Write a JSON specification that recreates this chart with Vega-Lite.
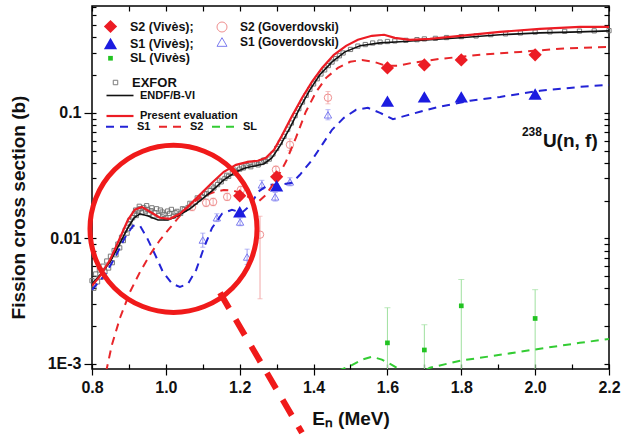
{
  "$schema": "https://vega.github.io/schema/vega-lite/v6.json",
  "width": 517,
  "height": 363,
  "autosize": {"type": "none"},
  "padding": {"left": 92, "top": 6, "right": 14, "bottom": 72},
  "background": "white",
  "datasets": {
    "exfor": [
      {"E": 0.800, "xs": 0.0046}, {"E": 0.805, "xs": 0.0040}, {"E": 0.810, "xs": 0.0052}, {"E": 0.815, "xs": 0.0045},
      {"E": 0.820, "xs": 0.0056}, {"E": 0.825, "xs": 0.0049}, {"E": 0.830, "xs": 0.0060}, {"E": 0.835, "xs": 0.0054},
      {"E": 0.840, "xs": 0.0066}, {"E": 0.845, "xs": 0.0058}, {"E": 0.850, "xs": 0.0072}, {"E": 0.855, "xs": 0.0064},
      {"E": 0.860, "xs": 0.0080}, {"E": 0.865, "xs": 0.0074}, {"E": 0.870, "xs": 0.0090}, {"E": 0.875, "xs": 0.0084},
      {"E": 0.880, "xs": 0.0102}, {"E": 0.885, "xs": 0.0096}, {"E": 0.890, "xs": 0.0116}, {"E": 0.895, "xs": 0.0110},
      {"E": 0.900, "xs": 0.0131}, {"E": 0.903, "xs": 0.0140}, {"E": 0.905, "xs": 0.0125}, {"E": 0.910, "xs": 0.0146},
      {"E": 0.915, "xs": 0.0158}, {"E": 0.918, "xs": 0.0168}, {"E": 0.920, "xs": 0.0152}, {"E": 0.925, "xs": 0.0166},
      {"E": 0.928, "xs": 0.0180}, {"E": 0.930, "xs": 0.0172}, {"E": 0.935, "xs": 0.0160}, {"E": 0.940, "xs": 0.0176},
      {"E": 0.945, "xs": 0.0165}, {"E": 0.948, "xs": 0.0182}, {"E": 0.950, "xs": 0.0170}, {"E": 0.955, "xs": 0.0158},
      {"E": 0.960, "xs": 0.0166}, {"E": 0.962, "xs": 0.0175}, {"E": 0.965, "xs": 0.0150}, {"E": 0.970, "xs": 0.0160},
      {"E": 0.975, "xs": 0.0172}, {"E": 0.980, "xs": 0.0152}, {"E": 0.985, "xs": 0.0168}, {"E": 0.990, "xs": 0.0162},
      {"E": 0.995, "xs": 0.0155}, {"E": 1.000, "xs": 0.0146}, {"E": 1.005, "xs": 0.0165}, {"E": 1.010, "xs": 0.0158},
      {"E": 1.015, "xs": 0.0170}, {"E": 1.020, "xs": 0.0150}, {"E": 1.025, "xs": 0.0160}, {"E": 1.030, "xs": 0.0164},
      {"E": 1.040, "xs": 0.0158}, {"E": 1.045, "xs": 0.0172}, {"E": 1.050, "xs": 0.0170}, {"E": 1.060, "xs": 0.0176},
      {"E": 1.065, "xs": 0.0190}, {"E": 1.070, "xs": 0.0186}, {"E": 1.080, "xs": 0.0194}, {"E": 1.085, "xs": 0.0210},
      {"E": 1.090, "xs": 0.0206}, {"E": 1.100, "xs": 0.0214}, {"E": 1.105, "xs": 0.0228}, {"E": 1.110, "xs": 0.0226},
      {"E": 1.120, "xs": 0.0240}, {"E": 1.125, "xs": 0.0260}, {"E": 1.130, "xs": 0.0252}, {"E": 1.140, "xs": 0.0268},
      {"E": 1.145, "xs": 0.0290}, {"E": 1.150, "xs": 0.0282}, {"E": 1.160, "xs": 0.0300}, {"E": 1.165, "xs": 0.0318},
      {"E": 1.170, "xs": 0.0312}, {"E": 1.180, "xs": 0.0330}, {"E": 1.185, "xs": 0.0350}, {"E": 1.190, "xs": 0.0342},
      {"E": 1.200, "xs": 0.0356}, {"E": 1.205, "xs": 0.0376}, {"E": 1.210, "xs": 0.0364}, {"E": 1.220, "xs": 0.0380},
      {"E": 1.225, "xs": 0.0395}, {"E": 1.230, "xs": 0.0372}, {"E": 1.240, "xs": 0.0392}, {"E": 1.245, "xs": 0.0400},
      {"E": 1.250, "xs": 0.0385}, {"E": 1.260, "xs": 0.0402}, {"E": 1.265, "xs": 0.0420}, {"E": 1.270, "xs": 0.0410},
      {"E": 1.280, "xs": 0.0428}, {"E": 1.290, "xs": 0.0470}, {"E": 1.300, "xs": 0.0520}, {"E": 1.310, "xs": 0.0580},
      {"E": 1.320, "xs": 0.0650}, {"E": 1.330, "xs": 0.0740}, {"E": 1.340, "xs": 0.0830}, {"E": 1.350, "xs": 0.0950},
      {"E": 1.360, "xs": 0.1080}, {"E": 1.370, "xs": 0.1220}, {"E": 1.380, "xs": 0.1380}, {"E": 1.390, "xs": 0.1540},
      {"E": 1.400, "xs": 0.1700}, {"E": 1.410, "xs": 0.1870}, {"E": 1.420, "xs": 0.2040}, {"E": 1.430, "xs": 0.2200},
      {"E": 1.440, "xs": 0.2380}, {"E": 1.450, "xs": 0.2540}, {"E": 1.460, "xs": 0.2700}, {"E": 1.470, "xs": 0.2850},
      {"E": 1.480, "xs": 0.3000}, {"E": 1.500, "xs": 0.3200}, {"E": 1.520, "xs": 0.3400}, {"E": 1.540, "xs": 0.3500},
      {"E": 1.560, "xs": 0.3600}, {"E": 1.580, "xs": 0.3660}, {"E": 1.600, "xs": 0.3700}, {"E": 1.620, "xs": 0.3740},
      {"E": 1.650, "xs": 0.3780}, {"E": 1.680, "xs": 0.3830}, {"E": 1.700, "xs": 0.3880}, {"E": 1.730, "xs": 0.3920},
      {"E": 1.760, "xs": 0.3980}, {"E": 1.800, "xs": 0.4050}, {"E": 1.840, "xs": 0.4100}, {"E": 1.880, "xs": 0.4200},
      {"E": 1.920, "xs": 0.4260}, {"E": 1.960, "xs": 0.4330}, {"E": 2.000, "xs": 0.4400}, {"E": 2.040, "xs": 0.4420},
      {"E": 2.080, "xs": 0.4460}, {"E": 2.120, "xs": 0.4480}, {"E": 2.160, "xs": 0.4500}, {"E": 2.200, "xs": 0.4520}
    ],
    "evals": [
      {"curve": "ENDF/B-VI", "E": 0.800, "xs": 0.00434}, {"curve": "ENDF/B-VI", "E": 0.822, "xs": 0.00512},
      {"curve": "ENDF/B-VI", "E": 0.849, "xs": 0.0065}, {"curve": "ENDF/B-VI", "E": 0.876, "xs": 0.0092},
      {"curve": "ENDF/B-VI", "E": 0.897, "xs": 0.0121}, {"curve": "ENDF/B-VI", "E": 0.914, "xs": 0.0146},
      {"curve": "ENDF/B-VI", "E": 0.930, "xs": 0.0157}, {"curve": "ENDF/B-VI", "E": 0.952, "xs": 0.0151},
      {"curve": "ENDF/B-VI", "E": 0.979, "xs": 0.0140}, {"curve": "ENDF/B-VI", "E": 1.006, "xs": 0.0140},
      {"curve": "ENDF/B-VI", "E": 1.033, "xs": 0.0151}, {"curve": "ENDF/B-VI", "E": 1.065, "xs": 0.0172},
      {"curve": "ENDF/B-VI", "E": 1.092, "xs": 0.0199}, {"curve": "ENDF/B-VI", "E": 1.125, "xs": 0.0239},
      {"curve": "ENDF/B-VI", "E": 1.157, "xs": 0.0292}, {"curve": "ENDF/B-VI", "E": 1.190, "xs": 0.0339},
      {"curve": "ENDF/B-VI", "E": 1.217, "xs": 0.0365}, {"curve": "ENDF/B-VI", "E": 1.244, "xs": 0.0379},
      {"curve": "ENDF/B-VI", "E": 1.266, "xs": 0.0393}, {"curve": "ENDF/B-VI", "E": 1.287, "xs": 0.0438},
      {"curve": "ENDF/B-VI", "E": 1.309, "xs": 0.0546}, {"curve": "ENDF/B-VI", "E": 1.336, "xs": 0.0759},
      {"curve": "ENDF/B-VI", "E": 1.363, "xs": 0.1096}, {"curve": "ENDF/B-VI", "E": 1.390, "xs": 0.1525},
      {"curve": "ENDF/B-VI", "E": 1.417, "xs": 0.2009}, {"curve": "ENDF/B-VI", "E": 1.450, "xs": 0.2548},
      {"curve": "ENDF/B-VI", "E": 1.485, "xs": 0.306}, {"curve": "ENDF/B-VI", "E": 1.526, "xs": 0.342},
      {"curve": "ENDF/B-VI", "E": 1.580, "xs": 0.361}, {"curve": "ENDF/B-VI", "E": 1.634, "xs": 0.368},
      {"curve": "ENDF/B-VI", "E": 1.715, "xs": 0.382}, {"curve": "ENDF/B-VI", "E": 1.797, "xs": 0.396},
      {"curve": "ENDF/B-VI", "E": 1.905, "xs": 0.419}, {"curve": "ENDF/B-VI", "E": 2.013, "xs": 0.434},
      {"curve": "ENDF/B-VI", "E": 2.121, "xs": 0.442}, {"curve": "ENDF/B-VI", "E": 2.200, "xs": 0.450},
      {"curve": "Present evaluation", "E": 0.800, "xs": 0.00419}, {"curve": "Present evaluation", "E": 0.822, "xs": 0.00502},
      {"curve": "Present evaluation", "E": 0.849, "xs": 0.00675}, {"curve": "Present evaluation", "E": 0.876, "xs": 0.0101},
      {"curve": "Present evaluation", "E": 0.897, "xs": 0.0140}, {"curve": "Present evaluation", "E": 0.916, "xs": 0.0169},
      {"curve": "Present evaluation", "E": 0.935, "xs": 0.0178}, {"curve": "Present evaluation", "E": 0.957, "xs": 0.0163},
      {"curve": "Present evaluation", "E": 0.984, "xs": 0.0146}, {"curve": "Present evaluation", "E": 1.011, "xs": 0.0143},
      {"curve": "Present evaluation", "E": 1.038, "xs": 0.0157}, {"curve": "Present evaluation", "E": 1.065, "xs": 0.0185},
      {"curve": "Present evaluation", "E": 1.092, "xs": 0.0222}, {"curve": "Present evaluation", "E": 1.125, "xs": 0.0277},
      {"curve": "Present evaluation", "E": 1.157, "xs": 0.0339}, {"curve": "Present evaluation", "E": 1.190, "xs": 0.0385},
      {"curve": "Present evaluation", "E": 1.222, "xs": 0.0407}, {"curve": "Present evaluation", "E": 1.249, "xs": 0.0415},
      {"curve": "Present evaluation", "E": 1.271, "xs": 0.0438}, {"curve": "Present evaluation", "E": 1.293, "xs": 0.0507},
      {"curve": "Present evaluation", "E": 1.314, "xs": 0.0656}, {"curve": "Present evaluation", "E": 1.342, "xs": 0.0946},
      {"curve": "Present evaluation", "E": 1.369, "xs": 0.132}, {"curve": "Present evaluation", "E": 1.396, "xs": 0.177},
      {"curve": "Present evaluation", "E": 1.423, "xs": 0.228}, {"curve": "Present evaluation", "E": 1.455, "xs": 0.290},
      {"curve": "Present evaluation", "E": 1.488, "xs": 0.342}, {"curve": "Present evaluation", "E": 1.520, "xs": 0.382},
      {"curve": "Present evaluation", "E": 1.558, "xs": 0.411}, {"curve": "Present evaluation", "E": 1.591, "xs": 0.419},
      {"curve": "Present evaluation", "E": 1.620, "xs": 0.396}, {"curve": "Present evaluation", "E": 1.661, "xs": 0.382},
      {"curve": "Present evaluation", "E": 1.715, "xs": 0.389}, {"curve": "Present evaluation", "E": 1.797, "xs": 0.411},
      {"curve": "Present evaluation", "E": 1.905, "xs": 0.442}, {"curve": "Present evaluation", "E": 2.013, "xs": 0.467},
      {"curve": "Present evaluation", "E": 2.121, "xs": 0.484}, {"curve": "Present evaluation", "E": 2.200, "xs": 0.484}
    ],
    "components": [
      {"comp": "S1", "E": 0.800, "xs": 0.00389}, {"comp": "S1", "E": 0.835, "xs": 0.00512}, {"comp": "S1", "E": 0.862, "xs": 0.0070},
      {"comp": "S1", "E": 0.889, "xs": 0.0101}, {"comp": "S1", "E": 0.911, "xs": 0.0126}, {"comp": "S1", "E": 0.930, "xs": 0.0126},
      {"comp": "S1", "E": 0.949, "xs": 0.0101}, {"comp": "S1", "E": 0.971, "xs": 0.0074}, {"comp": "S1", "E": 0.992, "xs": 0.0054},
      {"comp": "S1", "E": 1.017, "xs": 0.00434}, {"comp": "S1", "E": 1.038, "xs": 0.00411}, {"comp": "S1", "E": 1.060, "xs": 0.00434},
      {"comp": "S1", "E": 1.082, "xs": 0.0056}, {"comp": "S1", "E": 1.103, "xs": 0.0084}, {"comp": "S1", "E": 1.125, "xs": 0.0121},
      {"comp": "S1", "E": 1.152, "xs": 0.0157}, {"comp": "S1", "E": 1.179, "xs": 0.0169}, {"comp": "S1", "E": 1.206, "xs": 0.0160},
      {"comp": "S1", "E": 1.228, "xs": 0.0182}, {"comp": "S1", "E": 1.250, "xs": 0.0235}, {"comp": "S1", "E": 1.277, "xs": 0.0267},
      {"comp": "S1", "E": 1.309, "xs": 0.0267}, {"comp": "S1", "E": 1.342, "xs": 0.0277}, {"comp": "S1", "E": 1.363, "xs": 0.0321},
      {"comp": "S1", "E": 1.396, "xs": 0.0422}, {"comp": "S1", "E": 1.423, "xs": 0.0556}, {"comp": "S1", "E": 1.450, "xs": 0.0733},
      {"comp": "S1", "E": 1.482, "xs": 0.0912}, {"comp": "S1", "E": 1.515, "xs": 0.1057}, {"comp": "S1", "E": 1.547, "xs": 0.1096},
      {"comp": "S1", "E": 1.580, "xs": 0.1000}, {"comp": "S1", "E": 1.615, "xs": 0.0890}, {"comp": "S1", "E": 1.650, "xs": 0.0950},
      {"comp": "S1", "E": 1.688, "xs": 0.102}, {"comp": "S1", "E": 1.742, "xs": 0.112}, {"comp": "S1", "E": 1.824, "xs": 0.125},
      {"comp": "S1", "E": 1.905, "xs": 0.134}, {"comp": "S1", "E": 2.013, "xs": 0.150}, {"comp": "S1", "E": 2.121, "xs": 0.161},
      {"comp": "S1", "E": 2.200, "xs": 0.167},
      {"comp": "S2", "E": 0.838, "xs": 0.00086}, {"comp": "S2", "E": 0.854, "xs": 0.00142}, {"comp": "S2", "E": 0.876, "xs": 0.00233},
      {"comp": "S2", "E": 0.903, "xs": 0.00375}, {"comp": "S2", "E": 0.930, "xs": 0.0054}, {"comp": "S2", "E": 0.957, "xs": 0.0074},
      {"comp": "S2", "E": 0.984, "xs": 0.0097}, {"comp": "S2", "E": 1.011, "xs": 0.0121}, {"comp": "S2", "E": 1.038, "xs": 0.0151},
      {"comp": "S2", "E": 1.065, "xs": 0.0185}, {"comp": "S2", "E": 1.092, "xs": 0.0210}, {"comp": "S2", "E": 1.125, "xs": 0.0231},
      {"comp": "S2", "E": 1.157, "xs": 0.0243}, {"comp": "S2", "E": 1.185, "xs": 0.0239}, {"comp": "S2", "E": 1.217, "xs": 0.0218},
      {"comp": "S2", "E": 1.250, "xs": 0.0195}, {"comp": "S2", "E": 1.271, "xs": 0.0222}, {"comp": "S2", "E": 1.298, "xs": 0.0292},
      {"comp": "S2", "E": 1.325, "xs": 0.0407}, {"comp": "S2", "E": 1.352, "xs": 0.0632}, {"comp": "S2", "E": 1.379, "xs": 0.102},
      {"comp": "S2", "E": 1.407, "xs": 0.147}, {"comp": "S2", "E": 1.434, "xs": 0.190}, {"comp": "S2", "E": 1.466, "xs": 0.228},
      {"comp": "S2", "E": 1.499, "xs": 0.255}, {"comp": "S2", "E": 1.531, "xs": 0.264}, {"comp": "S2", "E": 1.564, "xs": 0.255},
      {"comp": "S2", "E": 1.596, "xs": 0.237}, {"comp": "S2", "E": 1.629, "xs": 0.237}, {"comp": "S2", "E": 1.666, "xs": 0.250},
      {"comp": "S2", "E": 1.742, "xs": 0.269}, {"comp": "S2", "E": 1.851, "xs": 0.290}, {"comp": "S2", "E": 1.959, "xs": 0.306},
      {"comp": "S2", "E": 2.067, "xs": 0.324}, {"comp": "S2", "E": 2.200, "xs": 0.336},
      {"comp": "SL", "E": 1.466, "xs": 0.00088}, {"comp": "SL", "E": 1.499, "xs": 0.00096}, {"comp": "SL", "E": 1.531, "xs": 0.00108},
      {"comp": "SL", "E": 1.558, "xs": 0.00114}, {"comp": "SL", "E": 1.585, "xs": 0.00108}, {"comp": "SL", "E": 1.612, "xs": 0.00098},
      {"comp": "SL", "E": 1.634, "xs": 0.00090}, {"comp": "SL", "E": 1.660, "xs": 0.00078}, {"comp": "SL", "E": 1.688, "xs": 0.00084},
      {"comp": "SL", "E": 1.715, "xs": 0.00093}, {"comp": "SL", "E": 1.797, "xs": 0.00106}, {"comp": "SL", "E": 1.905, "xs": 0.00118},
      {"comp": "SL", "E": 2.013, "xs": 0.00132}, {"comp": "SL", "E": 2.121, "xs": 0.00147}, {"comp": "SL", "E": 2.200, "xs": 0.00158}
    ],
    "vives": [
      {"set": "S2 (Vivès);", "E": 1.2, "xs": 0.0218}, {"set": "S2 (Vivès);", "E": 1.3, "xs": 0.0309},
      {"set": "S2 (Vivès);", "E": 1.6, "xs": 0.228}, {"set": "S2 (Vivès);", "E": 1.7, "xs": 0.241},
      {"set": "S2 (Vivès);", "E": 1.8, "xs": 0.264}, {"set": "S2 (Vivès);", "E": 2.0, "xs": 0.290},
      {"set": "S1 (Vivès);", "E": 1.2, "xs": 0.0163}, {"set": "S1 (Vivès);", "E": 1.3, "xs": 0.0262},
      {"set": "S1 (Vivès);", "E": 1.6, "xs": 0.124}, {"set": "S1 (Vivès);", "E": 1.7, "xs": 0.134},
      {"set": "S1 (Vivès);", "E": 1.8, "xs": 0.134}, {"set": "S1 (Vivès);", "E": 2.0, "xs": 0.1415},
      {"set": "SL (Vivès)", "E": 1.6, "xs": 0.00147, "lo": 0.0006, "hi": 0.0028},
      {"set": "SL (Vivès)", "E": 1.7, "xs": 0.00129, "lo": 0.0006, "hi": 0.00205},
      {"set": "SL (Vivès)", "E": 1.8, "xs": 0.0029, "lo": 0.0006, "hi": 0.0047},
      {"set": "SL (Vivès)", "E": 2.0, "xs": 0.0023, "lo": 0.0006, "hi": 0.0039}
    ],
    "goverdovski": [
      {"set": "S2 (Goverdovski)", "E": 1.071, "xs": 0.0178, "lo": 0.0166, "hi": 0.0191},
      {"set": "S2 (Goverdovski)", "E": 1.109, "xs": 0.0192, "lo": 0.0179, "hi": 0.0206},
      {"set": "S2 (Goverdovski)", "E": 1.128, "xs": 0.0195, "lo": 0.0182, "hi": 0.0209},
      {"set": "S2 (Goverdovski)", "E": 1.166, "xs": 0.0214, "lo": 0.0200, "hi": 0.0229},
      {"set": "S2 (Goverdovski)", "E": 1.203, "xs": 0.0243, "lo": 0.0227, "hi": 0.0260},
      {"set": "S2 (Goverdovski)", "E": 1.255, "xs": 0.0107, "lo": 0.0033, "hi": 0.0150},
      {"set": "S2 (Goverdovski)", "E": 1.298, "xs": 0.0352, "lo": 0.0329, "hi": 0.0377},
      {"set": "S2 (Goverdovski)", "E": 1.336, "xs": 0.0556, "lo": 0.0500, "hi": 0.0620},
      {"set": "S2 (Goverdovski)", "E": 1.439, "xs": 0.132, "lo": 0.118, "hi": 0.148},
      {"set": "S1 (Goverdovski)", "E": 1.100, "xs": 0.0097, "lo": 0.0085, "hi": 0.0110},
      {"set": "S1 (Goverdovski)", "E": 1.138, "xs": 0.0146, "lo": 0.0136, "hi": 0.0157},
      {"set": "S1 (Goverdovski)", "E": 1.201, "xs": 0.0135, "lo": 0.0126, "hi": 0.0145},
      {"set": "S1 (Goverdovski)", "E": 1.220, "xs": 0.0071, "lo": 0.0062, "hi": 0.0082},
      {"set": "S1 (Goverdovski)", "E": 1.260, "xs": 0.0267, "lo": 0.0245, "hi": 0.0290},
      {"set": "S1 (Goverdovski)", "E": 1.296, "xs": 0.0214, "lo": 0.0198, "hi": 0.0232},
      {"set": "S1 (Goverdovski)", "E": 1.336, "xs": 0.0282, "lo": 0.0262, "hi": 0.0304},
      {"set": "S1 (Goverdovski)", "E": 1.439, "xs": 0.0964, "lo": 0.0880, "hi": 0.1060}
    ]
  },
  "layer": [
    {
      "data": {"name": "exfor"},
      "mark": {"type": "point", "shape": "square", "filled": false, "size": 18, "strokeWidth": 1, "opacity": 0.9},
      "encoding": {
        "x": {"field": "E", "type": "quantitative", "scale": {"domain": [0.8, 2.2], "nice": false, "zero": false},
          "axis": {"orient": "bottom", "values": [0.8, 1.0, 1.2, 1.4, 1.6, 1.8, 2.0, 2.2], "format": ".1f", "tickSize": 6, "labelPadding": 4, "labelFlush": false, "labelOverlap": false, "title": "Eₙ (MeV)", "titlePadding": 14}},
        "y": {"field": "xs", "type": "quantitative", "scale": {"type": "log", "domain": [0.00091, 0.71], "nice": false},
          "axis": {"orient": "left", "values": [0.001, 0.01, 0.1], "labelExpr": "datum.value < 0.005 ? '1E-3' : datum.value < 0.05 ? '0.01' : '0.1'", "tickSize": 8, "labelPadding": 3, "labelFlush": false, "labelOverlap": false, "title": "Fission cross section (b)", "titleX": -74, "titleY": 201, "titleAngle": 270, "titleAlign": "center", "titleBaseline": "middle"}},
        "color": {"datum": "EXFOR", "type": "nominal", "scale": {"domain": ["EXFOR"], "range": ["#6e6e6e"]},
          "legend": {"orient": "none", "legendX": 17, "legendY": 70, "title": null, "symbolType": "square", "symbolSize": 20, "symbolStrokeWidth": 1, "labelFontSize": 13, "labelOffset": 10}}
      }
    },
    {
      "data": {"name": "goverdovski"},
      "mark": {"type": "errorbar", "clip": true, "ticks": {"size": 5, "thickness": 1}, "rule": {"strokeWidth": 1}},
      "encoding": {
        "x": {"field": "E", "type": "quantitative", "scale": {"domain": [0.8, 2.2], "nice": false, "zero": false}, "axis": null},
        "y": {"field": "lo", "type": "quantitative", "scale": {"type": "log", "domain": [0.00091, 0.71], "nice": false}, "axis": null},
        "y2": {"field": "hi"},
        "color": {"field": "set", "type": "nominal", "scale": {"domain": ["S2 (Goverdovski)", "S1 (Goverdovski)"], "range": ["#f2a8a8", "#9a9af2"]}, "legend": null}
      }
    },
    {
      "data": {"name": "goverdovski"},
      "mark": {"type": "point", "filled": false, "strokeWidth": 1, "opacity": 1},
      "encoding": {
        "x": {"field": "E", "type": "quantitative", "scale": {"domain": [0.8, 2.2], "nice": false, "zero": false}, "axis": null},
        "y": {"field": "xs", "type": "quantitative", "scale": {"type": "log", "domain": [0.00091, 0.71], "nice": false}, "axis": null},
        "color": {"field": "set", "type": "nominal", "scale": {"domain": ["S2 (Goverdovski)", "S1 (Goverdovski)"], "range": ["#ef8f8f", "#7d7def"]},
          "legend": {"orient": "none", "legendX": 124, "legendY": 15, "title": null, "labelFontSize": 12, "labelOffset": 12, "rowPadding": 1, "symbolStrokeWidth": 1}},
        "shape": {"field": "set", "type": "nominal", "scale": {"domain": ["S2 (Goverdovski)", "S1 (Goverdovski)"], "range": ["circle", "triangle-up"]}},
        "size": {"value": 55}
      }
    },
    {
      "data": {"name": "vives"},
      "transform": [{"filter": "datum.set === 'SL (Vivès)'"}],
      "mark": {"type": "errorbar", "clip": true, "color": "#9fe09f", "ticks": {"size": 6, "thickness": 1}, "rule": {"strokeWidth": 1}},
      "encoding": {
        "x": {"field": "E", "type": "quantitative", "scale": {"domain": [0.8, 2.2], "nice": false, "zero": false}, "axis": null},
        "y": {"field": "lo", "type": "quantitative", "scale": {"type": "log", "domain": [0.00091, 0.71], "nice": false}, "axis": null},
        "y2": {"field": "hi"}
      }
    },
    {
      "data": {"name": "components"},
      "mark": {"type": "line", "clip": true, "strokeWidth": 2, "strokeDash": [8, 6]},
      "encoding": {
        "x": {"field": "E", "type": "quantitative", "scale": {"domain": [0.8, 2.2], "nice": false, "zero": false},
          "axis": {"orient": "bottom", "values": [0.8, 0.9, 1.0, 1.1, 1.2, 1.3, 1.4, 1.5, 1.6, 1.7, 1.8, 1.9, 2.0, 2.1, 2.2], "tickSize": -5, "labels": false, "title": null}},
        "y": {"field": "xs", "type": "quantitative", "scale": {"type": "log", "domain": [0.00091, 0.71], "nice": false},
          "axis": {"orient": "left", "values": [0.001, 0.002, 0.003, 0.004, 0.005, 0.006, 0.007, 0.008, 0.009, 0.01, 0.02, 0.03, 0.04, 0.05, 0.06, 0.07, 0.08, 0.09, 0.1, 0.2, 0.3, 0.4, 0.5, 0.6, 0.7], "tickSize": -4, "labels": false, "title": null}},
        "color": {"field": "comp", "type": "nominal", "scale": {"domain": ["S1", "S2", "SL"], "range": ["#2323d6", "#e8262a", "#33cc33"]},
          "legend": {"orient": "none", "direction": "horizontal", "legendX": 13, "legendY": 106, "title": null, "symbolType": "stroke", "symbolSize": 729, "symbolStrokeWidth": 2, "symbolDash": [8, 6], "labelFontSize": 11, "labelOffset": 3, "columnPadding": 4}}
      }
    },
    {
      "data": {"name": "evals"},
      "mark": {"type": "line", "clip": true},
      "encoding": {
        "x": {"field": "E", "type": "quantitative", "scale": {"domain": [0.8, 2.2], "nice": false, "zero": false},
          "axis": {"orient": "top", "values": [0.8, 0.9, 1.0, 1.1, 1.2, 1.3, 1.4, 1.5, 1.6, 1.7, 1.8, 1.9, 2.0, 2.1, 2.2], "tickSize": -5, "labels": false, "title": null}},
        "y": {"field": "xs", "type": "quantitative", "scale": {"type": "log", "domain": [0.00091, 0.71], "nice": false},
          "axis": {"orient": "right", "values": [0.001, 0.002, 0.003, 0.004, 0.005, 0.006, 0.007, 0.008, 0.009, 0.01, 0.02, 0.03, 0.04, 0.05, 0.06, 0.07, 0.08, 0.09, 0.1, 0.2, 0.3, 0.4, 0.5, 0.6, 0.7], "tickSize": -5, "labels": false, "title": null}},
        "color": {"field": "curve", "type": "nominal", "scale": {"domain": ["ENDF/B-VI", "Present evaluation"], "range": ["#111111", "#ec1c24"]},
          "legend": {"orient": "none", "legendX": 13, "legendY": 75, "title": null, "symbolType": "stroke", "symbolSize": 729, "symbolStrokeWidth": 2.5, "labelFontSize": 11, "labelOffset": 5, "rowPadding": -13}},
        "strokeWidth": {"field": "curve", "type": "nominal", "scale": {"domain": ["ENDF/B-VI", "Present evaluation"], "range": [1.6, 2.2]}, "legend": null}
      }
    },
    {
      "data": {"name": "vives"},
      "mark": {"type": "point", "filled": true, "opacity": 1, "strokeWidth": 0},
      "encoding": {
        "x": {"field": "E", "type": "quantitative", "scale": {"domain": [0.8, 2.2], "nice": false, "zero": false}, "axis": null},
        "y": {"field": "xs", "type": "quantitative", "scale": {"type": "log", "domain": [0.00091, 0.71], "nice": false}, "axis": null},
        "color": {"field": "set", "type": "nominal", "scale": {"domain": ["S2 (Vivès);", "S1 (Vivès);", "SL (Vivès)"], "range": ["#ec1c24", "#1c1ce0", "#22c322"]},
          "legend": {"orient": "none", "legendX": 11, "legendY": 13, "title": null, "labelFontSize": 12.5, "labelOffset": 12, "rowPadding": 2}},
        "shape": {"field": "set", "type": "nominal", "scale": {"domain": ["S2 (Vivès);", "S1 (Vivès);", "SL (Vivès)"], "range": ["diamond", "triangle-up", "square"]}},
        "size": {"field": "set", "type": "nominal", "scale": {"type": "ordinal", "domain": ["S2 (Vivès);", "S1 (Vivès);", "SL (Vivès)"], "range": [175, 175, 22]}}
      }
    },
    {
      "data": {"values": [{"E": 1.0207, "xs": 0.0119}]},
      "mark": {"type": "point", "shape": "circle", "filled": false, "size": 27900, "stroke": "#f01a1a", "strokeWidth": 5, "opacity": 1},
      "encoding": {
        "x": {"field": "E", "type": "quantitative", "scale": {"domain": [0.8, 2.2], "nice": false, "zero": false}, "axis": null},
        "y": {"field": "xs", "type": "quantitative", "scale": {"type": "log", "domain": [0.00091, 0.71], "nice": false}, "axis": null}
      }
    },
    {
      "data": {"values": [{"E": 1.1466, "xs": 0.00368, "E2": 1.3686, "xs2": 0.000282}]},
      "mark": {"type": "rule", "stroke": "#f01a1a", "strokeWidth": 6, "strokeDash": [18, 13], "strokeCap": "butt"},
      "encoding": {
        "x": {"field": "E", "type": "quantitative", "scale": {"domain": [0.8, 2.2], "nice": false, "zero": false}, "axis": null},
        "y": {"field": "xs", "type": "quantitative", "scale": {"type": "log", "domain": [0.00091, 0.71], "nice": false}, "axis": null},
        "x2": {"field": "E2"},
        "y2": {"field": "xs2"}
      }
    },
    {
      "data": {"values": [{"E": 2.0185, "xs": 0.0706, "label": "238"}]},
      "mark": {"type": "text", "font": "Liberation Sans", "fontWeight": "bold", "fontSize": 12, "align": "right", "baseline": "middle", "color": "#111"},
      "encoding": {
        "x": {"field": "E", "type": "quantitative", "scale": {"domain": [0.8, 2.2], "nice": false, "zero": false}, "axis": null},
        "y": {"field": "xs", "type": "quantitative", "scale": {"type": "log", "domain": [0.00091, 0.71], "nice": false}, "axis": null},
        "text": {"field": "label"}
      }
    },
    {
      "data": {"values": [{"E": 2.021, "xs": 0.0598, "label": "U(n, f)"}]},
      "mark": {"type": "text", "font": "Liberation Sans", "fontWeight": "bold", "fontSize": 19, "align": "left", "baseline": "middle", "color": "#111"},
      "encoding": {
        "x": {"field": "E", "type": "quantitative", "scale": {"domain": [0.8, 2.2], "nice": false, "zero": false}, "axis": null},
        "y": {"field": "xs", "type": "quantitative", "scale": {"type": "log", "domain": [0.00091, 0.71], "nice": false}, "axis": null},
        "text": {"field": "label"}
      }
    }
  ],
  "resolve": {
    "scale": {"color": "independent", "shape": "independent", "size": "independent", "strokeWidth": "independent"},
    "axis": {"x": "independent", "y": "independent"}
  },
  "config": {
    "font": "Liberation Sans",
    "view": {"stroke": "#000", "strokeWidth": 1.5},
    "axis": {
      "labelFont": "Liberation Sans", "labelFontWeight": "bold", "labelFontSize": 16, "labelColor": "#111",
      "titleFont": "Liberation Sans", "titleFontWeight": "bold", "titleFontSize": 19, "titleColor": "#111",
      "tickColor": "#000", "tickWidth": 1.2, "domain": false, "grid": false
    },
    "legend": {"labelFont": "Liberation Sans", "labelFontWeight": "bold", "labelColor": "#111", "padding": 0, "offset": 0, "titlePadding": 0}
  }
}
